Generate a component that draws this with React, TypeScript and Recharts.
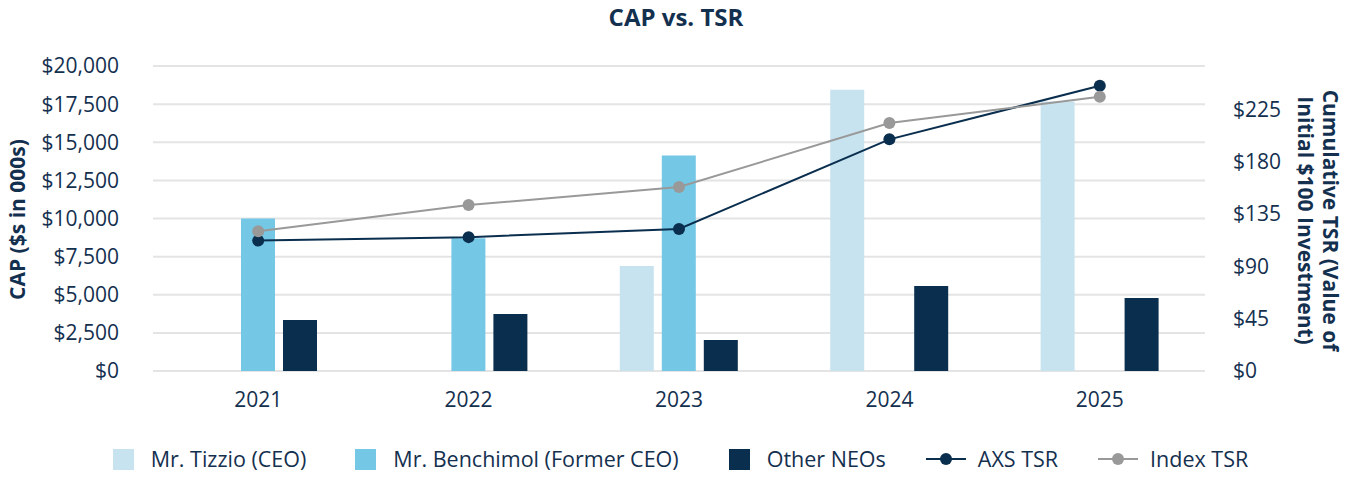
import React from 'react';
import {
  ComposedChart,
  Bar,
  Line,
  XAxis,
  YAxis,
  CartesianGrid,
  Legend,
} from 'recharts';

const years = ['2021', '2022', '2023', '2024', '2025'];
const tizzioCap = [null, null, 6890, 18440, 17680];
const benchimolCap = [10000, 8700, 14130, null, null];
const otherNeosCap = [3350, 3740, 2030, 5580, 4790];
const axsTsr = [112, 115, 122, 199, 245];
const indexTsr = [120, 142.5, 158, 213, 235.5];

const capTicks = [0, 2500, 5000, 7500, 10000, 12500, 15000, 17500, 20000];
const tsrTicks = [0, 45, 90, 135, 180, 225];

const seriesNames = {
  tizzio: 'Mr. Tizzio (CEO)',
  benchimol: 'Mr. Benchimol (Former CEO)',
  other: 'Other NEOs',
  axs: 'AXS TSR',
  index: 'Index TSR',
};

const COLORS = {
  tizzio: '#c8e3f0',
  benchimol: '#74c8e6',
  other: '#0a2e4e',
  axs: '#0a2e4e',
  index: '#999999',
};

const TEXT = '#14304f';
const FONT = "'Open Sans', sans-serif";

const data = years.map((y, i) => ({
  year: y,
  tizzio: tizzioCap[i],
  benchimol: benchimolCap[i],
  other: otherNeosCap[i],
  axs: axsTsr[i],
  index: indexTsr[i],
}));

const legendItems = [
  { key: 'tizzio', type: 'square', gap: 0 },
  { key: 'benchimol', type: 'square', gap: 49 },
  { key: 'other', type: 'square', gap: 50 },
  { key: 'axs', type: 'line', gap: 40 },
  { key: 'index', type: 'line', gap: 40 },
];

const LegendContent = () => (
  <div
    style={{
      display: 'flex',
      justifyContent: 'center',
      alignItems: 'center',
      height: 30,
      paddingLeft: 9,
      fontFamily: FONT,
      fontSize: 21.5,
      color: TEXT,
    }}
  >
    {legendItems.map((it) => (
      <div key={it.key} style={{ display: 'flex', alignItems: 'center', marginLeft: it.gap }}>
        {it.type === 'square' ? (
          <svg width={21} height={21} style={{ marginRight: 17 }}>
            <rect x={0} y={0} width={21} height={21} fill={COLORS[it.key]} />
          </svg>
        ) : (
          <svg width={40} height={14} style={{ marginRight: 12 }}>
            <line x1={0} y1={7} x2={40} y2={7} stroke={COLORS[it.key]} strokeWidth={2} />
            <circle cx={20} cy={7} r={6} fill={COLORS[it.key]} />
          </svg>
        )}
        <span style={{ whiteSpace: 'nowrap', lineHeight: '30px' }}>{seriesNames[it.key]}</span>
      </div>
    ))}
  </div>
);

const LeftLabel = (props: any) => {
  const vb = props.viewBox || {};
  const cx = (vb.x || 0) + 17;
  const cy = (vb.y || 0) + (vb.height || 0) / 2 + 1;
  return (
    <text
      x={cx}
      y={cy}
      transform={`rotate(-90, ${cx}, ${cy})`}
      textAnchor="middle"
      dominantBaseline="central"
      fontFamily={FONT}
      fontSize={21}
      fontWeight={700}
      fill={TEXT}
    >
      CAP ($s in 000s)
    </text>
  );
};

const RightLabel = (props: any) => {
  const vb = props.viewBox || {};
  const cx = (vb.x || 0) + 113;
  const cy = (vb.y || 0) + (vb.height || 0) / 2 + 2;
  return (
    <text
      x={cx}
      y={cy}
      transform={`rotate(90, ${cx}, ${cy})`}
      textAnchor="middle"
      dominantBaseline="central"
      fontFamily={FONT}
      fontSize={21}
      fontWeight={700}
      fill={TEXT}
    >
      <tspan x={cx} dy={-12.5}>Cumulative TSR (Value of</tspan>
      <tspan x={cx} dy={25}>Initial $100 Investment)</tspan>
    </text>
  );
};

const fmtCap = (v: number) => `$${v.toLocaleString('en-US')}`;
const fmtTsr = (v: number) => `$${v}`;

export default function App() {
  return (
    <div style={{ position: 'absolute', left: 0, top: 0, width: 1352, height: 480, background: '#fff' }}>
      <div
        style={{
          position: 'absolute',
          top: 4,
          left: 0,
          width: 1352,
          textAlign: 'center',
          fontFamily: FONT,
          fontWeight: 700,
          fontSize: 24,
          lineHeight: '26px',
          color: TEXT,
        }}
      >
        CAP vs. TSR
      </div>
      <ComposedChart
        width={1352}
        height={480}
        data={data}
        margin={{ top: 66, right: 0, bottom: 6, left: 0 }}
        barSize={34}
        barGap={8}
      >
        <CartesianGrid yAxisId="left" vertical={false} stroke="#e4e4e4" strokeWidth={2} />
        <XAxis
          dataKey="year"
          height={73}
          axisLine={false}
          tickLine={false}
          tickSize={0}
          tickMargin={21}
          tick={{ fill: TEXT, fontSize: 21, fontFamily: FONT }}
        />
        <YAxis
          yAxisId="left"
          orientation="left"
          width={153}
          domain={[0, 20000]}
          ticks={capTicks}
          interval={0}
          tickFormatter={fmtCap}
          axisLine={false}
          tickLine={false}
          tickSize={0}
          tickMargin={34}
          tick={{ fill: TEXT, fontSize: 21, fontFamily: FONT }}
          label={<LeftLabel />}
        />
        <YAxis
          yAxisId="right"
          orientation="right"
          width={147}
          domain={[0, 262]}
          ticks={tsrTicks}
          interval={0}
          tickFormatter={fmtTsr}
          axisLine={false}
          tickLine={false}
          tickSize={0}
          tickMargin={28}
          tick={{ fill: TEXT, fontSize: 21, fontFamily: FONT }}
          label={<RightLabel />}
        />
        <Legend verticalAlign="bottom" height={30} content={<LegendContent />} />
        <Bar yAxisId="left" dataKey="tizzio" name={seriesNames.tizzio} fill={COLORS.tizzio} isAnimationActive={false} />
        <Bar yAxisId="left" dataKey="benchimol" name={seriesNames.benchimol} fill={COLORS.benchimol} isAnimationActive={false} />
        <Bar yAxisId="left" dataKey="other" name={seriesNames.other} fill={COLORS.other} isAnimationActive={false} />
        <Line
          yAxisId="right"
          dataKey="axs"
          name={seriesNames.axs}
          stroke={COLORS.axs}
          strokeWidth={2}
          dot={{ r: 6, fill: COLORS.axs, stroke: COLORS.axs, strokeWidth: 0 }}
          activeDot={false}
          isAnimationActive={false}
        />
        <Line
          yAxisId="right"
          dataKey="index"
          name={seriesNames.index}
          stroke={COLORS.index}
          strokeWidth={2}
          dot={{ r: 6, fill: COLORS.index, stroke: COLORS.index, strokeWidth: 0 }}
          activeDot={false}
          isAnimationActive={false}
        />
      </ComposedChart>
    </div>
  );
}
